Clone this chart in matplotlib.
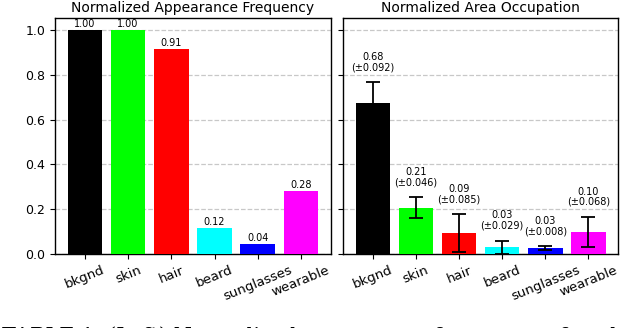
import numpy as np
import matplotlib
matplotlib.use("Agg")
import matplotlib.pyplot as plt

# --- Données ---
classes = ["bkgnd", "skin", "hair", "beard", "sunglasses", "wearable"]
couleurs = ["#000000", "#00ff00", "#ff0000", "#00ffff", "#0000ff", "#ff00ff"]

frequence = [1.00, 1.00, 0.914, 0.116, 0.043, 0.281]
occupation = [0.675, 0.207, 0.093, 0.031, 0.026, 0.099]
occupation_std = [0.092, 0.046, 0.085, 0.029, 0.008, 0.068]

yticks = [0.0, 0.2, 0.4, 0.6, 0.8, 1.0]

fig = plt.figure(figsize=(6.4, 3.28), dpi=100)
ax1 = fig.add_axes([0.0859, 0.2256, 0.431, 0.7195])
ax2 = fig.add_axes([0.536, 0.2256, 0.430, 0.7195])

x = np.arange(len(classes))

# ============================================
# Gauche — fréquence d'apparition
# ============================================
ax1.bar(x, frequence, width=0.8, color=couleurs, zorder=3)
for xi, v in zip(x, frequence):
    ax1.text(xi, v + 0.005, f"{v:.2f}", ha="center", va="bottom", fontsize=7)
ax1.set_title("Normalized Appearance Frequency", fontsize=10, pad=4)

# ============================================
# Droite — occupation de surface
# ============================================
ax2.bar(x, occupation, width=0.8, color=couleurs, zorder=3)
ax2.errorbar(x, occupation, yerr=occupation_std, fmt="none", ecolor="black",
             elinewidth=1.3, capsize=5, capthick=1.3, zorder=4)
for xi, v, s in zip(x, occupation, occupation_std):
    ax2.text(xi, v + s + 0.045, f"{v:.2f}\n(\u00b1{s:.3f})", ha="center",
             va="bottom", fontsize=7, linespacing=1.0)
ax2.set_title("Normalized Area Occupation", fontsize=10, pad=4)

for ax in (ax1, ax2):
    ax.set_ylim(0, 1.054)
    ax.set_yticks(yticks)
    ax.set_xticks(x)
    ax.set_xticklabels(classes, rotation=22, fontsize=9.5)
    ax.yaxis.grid(True, linestyle="--", color="#c8c8c8", linewidth=0.9, zorder=0)
    ax.set_axisbelow(True)
    ax.tick_params(axis="y", labelsize=9)
    for sp in ax.spines.values():
        sp.set_linewidth(1.0)

ax1.set_yticklabels([f"{t:.1f}" for t in yticks])
ax2.set_yticklabels([])

# Légende de la figure (coupée en bas, comme sur l'image)
fig.text(0.003, -0.056, "TABLE 1: (Left) Normalized appearance frequency of each class",
         fontsize=15, family="DejaVu Serif", va="bottom", ha="left")

fig.savefig("out.png", dpi=100)
